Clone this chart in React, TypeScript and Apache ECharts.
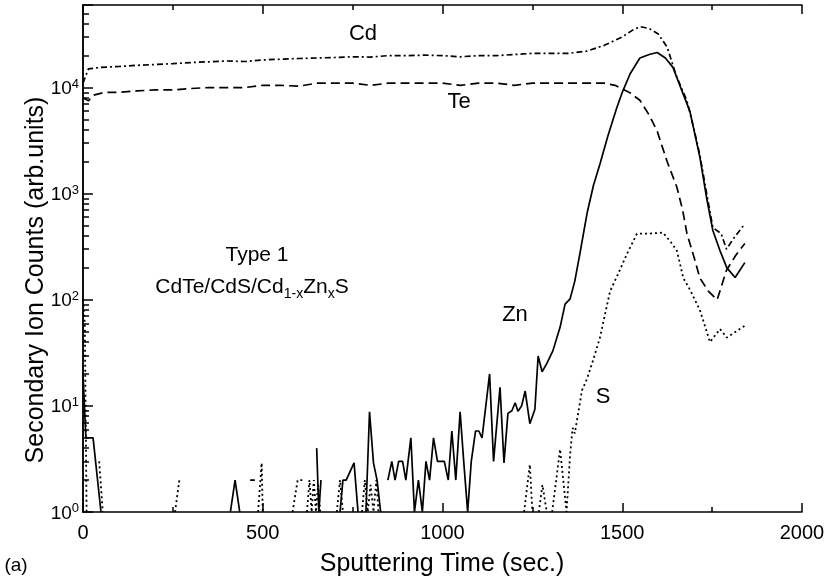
import React, { useEffect, useRef } from "react";
import * as echarts from "echarts";

type P = [number, number] | null;

const xTicks = [0, 500, 1000, 1500, 2000];
const yDecades = [1, 10, 100, 1000, 10000];
const yMinorTicks = [
  2, 3, 4, 5, 6, 7, 8, 9,
  20, 30, 40, 50, 60, 70, 80, 90,
  200, 300, 400, 500, 600, 700, 800, 900,
  2000, 3000, 4000, 5000, 6000, 7000, 8000, 9000,
  20000, 30000, 40000, 50000,
];

const cdData: P[] = [
  [0, 11000], [15, 15000], [50, 15500], [100, 15800], [150, 16200], [200, 16500],
  [250, 16800], [300, 17200], [350, 17500], [400, 17800], [450, 17600], [500, 18200],
  [550, 18500], [600, 18800], [650, 19000], [700, 19200], [750, 19500], [800, 19400],
  [850, 20000], [900, 20000], [950, 20200], [1000, 20000], [1050, 19500], [1100, 20000],
  [1150, 20000], [1200, 20500], [1250, 21000], [1300, 21000], [1350, 21000], [1400, 22000],
  [1450, 25000], [1500, 30000], [1530, 35000], [1550, 37500], [1575, 36000], [1600, 32000],
  [1625, 24000], [1650, 13000], [1680, 7500], [1700, 4000], [1716, 2300], [1740, 800],
  [1752, 480], [1775, 420], [1790, 300], [1810, 380], [1841, 520],
];

const teData: P[] = [
  [0, 8000], [15, 7500], [30, 8500], [60, 9000], [100, 9000], [150, 9300], [200, 9500],
  [250, 9500], [300, 9800], [350, 10000], [400, 10000], [450, 10000], [500, 10500],
  [550, 10500], [600, 10300], [650, 11000], [700, 11000], [750, 11000], [800, 10500],
  [850, 11000], [900, 11000], [950, 11000], [1000, 11000], [1050, 10500], [1100, 11000],
  [1150, 11000], [1200, 10500], [1250, 11000], [1300, 11000], [1350, 11000], [1400, 11000],
  [1450, 11000], [1480, 10500], [1520, 9000], [1549, 7600], [1575, 5500], [1597, 3900],
  [1625, 2000], [1652, 1150], [1668, 700], [1680, 420], [1700, 250], [1716, 160],
  [1740, 120], [1764, 100], [1790, 190], [1815, 260], [1841, 340],
];

const znData: P[] = [
  [0, 20], [8, 5], [28, 5], [50, 1], null,
  [410, 1], [423, 2], [436, 1], null,
  [465, 2], [478, 2], null,
  [650, 4], [656, 1], [662, 2], null,
  [715, 1], [723, 2], [732, 2], [754, 2.9], [765, 1], null,
  [787, 1], [797, 8.8], [808, 2.9], [818, 2], [828, 1], null,
  [848, 2], [859, 3], [868, 2], [878, 3], [889, 3], [898, 2], [912, 5], [922, 1],
  [933, 2], [944, 1], [954, 3], [964, 2], [975, 5], [986, 3], [1005, 3], [1016, 2],
  [1026, 5.8], [1037, 2], [1049, 8.8], [1059, 3], [1070, 1], [1080, 3], [1092, 5.8],
  [1101, 5.8], [1110, 5], [1131, 20], [1142, 3], [1160, 15], [1171, 2.9], [1182, 8.5],
  [1193, 9], [1202, 10.7], [1210, 8.9], [1220, 10], [1230, 13.8], [1243, 6.8],
  [1257, 9.3], [1266, 29.5], [1277, 21], [1290, 25], [1307, 33], [1327, 55], [1341, 91],
  [1355, 102], [1368, 150], [1382, 270], [1402, 650], [1420, 1200], [1438, 1900],
  [1460, 3500], [1485, 6500], [1500, 9000], [1522, 13500], [1549, 19000], [1575, 20500],
  [1597, 21400], [1620, 19000], [1641, 15500], [1665, 9500], [1688, 6000], [1716, 2200],
  [1735, 900], [1752, 450], [1772, 290], [1791, 200], [1814, 162], [1841, 224],
];

const sData: P[] = [
  [0, 100], [5, 60], [10, 1], null,
  [45, 3], [55, 1], null,
  [256, 1], [268, 2], null,
  [487, 1], [497, 2.9], [500, 1], null,
  [583, 1], [597, 2], [612, 2], null,
  [623, 1], [630, 2], [636, 1], [642, 2], [648, 1], [654, 1.8], [660, 1], null,
  [706, 1], [715, 2], [723, 1], null,
  [776, 1], [784, 2], [792, 1], [800, 1.8], [808, 1], [816, 2], [822, 1], null,
  [1227, 1], [1243, 2.8], [1250, 1], null,
  [1268, 1], [1278, 1.8], [1290, 1], null,
  [1305, 1], [1327, 3.9], [1345, 1], [1355, 3.5], [1362, 6.2], [1368, 5.5], [1377, 8.4],
  [1388, 14], [1402, 18], [1419, 27], [1438, 44], [1466, 120], [1490, 180], [1513, 270],
  [1541, 420], [1575, 420], [1613, 430], [1635, 350], [1652, 290], [1670, 160],
  [1688, 125], [1716, 80], [1744, 40], [1772, 53], [1791, 44], [1808, 48], [1841, 57],
];

const toSeriesData = (d: P[]) => d.map((p) => (p ? p : ["-", "-"]));

export default function App() {
  const ref = useRef<HTMLDivElement>(null);
  useEffect(() => {
    if (!ref.current) return;
    const chart = echarts.init(ref.current, undefined, { renderer: "svg" });
    const font = "'Liberation Sans', Arial, sans-serif";
    const lineBase = { type: "line", showSymbol: false, symbol: "none", connectNulls: false, xAxisIndex: 0, yAxisIndex: 0 };
    const blackLine = { color: "#000", width: 1.5 };
    chart.setOption({
      animation: false,
      textStyle: { fontFamily: font, color: "#000" },
      grid: { left: 83, right: 27, top: 5, bottom: 76, containLabel: false },
      xAxis: [
        {
          type: "value", min: xTicks[0], max: xTicks[xTicks.length - 1], interval: 500,
          axisLine: { lineStyle: blackLine },
          axisTick: { inside: true, length: 9, lineStyle: blackLine },
          minorTick: { show: true, splitNumber: 2, length: 5, lineStyle: blackLine },
          axisLabel: { fontSize: 20, color: "#000", margin: 10, fontFamily: font, formatter: (v: number) => String(v) },
          splitLine: { show: false },
        },
        {
          type: "value", position: "top", min: 0, max: 2000, interval: 500,
          axisLine: { lineStyle: blackLine },
          axisTick: { inside: true, length: 9, lineStyle: blackLine },
          minorTick: { show: true, splitNumber: 2, length: 5, lineStyle: blackLine },
          axisLabel: { show: false },
          splitLine: { show: false },
        },
      ],
      yAxis: [
        {
          type: "log", logBase: 10, min: yDecades[0], max: 60000,
          axisLine: { show: true, lineStyle: blackLine },
          axisTick: { inside: true, length: 10, lineStyle: blackLine },
          splitLine: { show: false },
          axisLabel: {
            margin: 4,
            formatter: (v: number) => {
              const e = Math.round(Math.log10(v));
              if (Math.abs(Math.pow(10, e) - v) > 1e-6 * v) return "";
              return `{b|10}{s|${e}}`;
            },
            rich: {
              b: { fontSize: 19, fontFamily: font, color: "#000", lineHeight: 22 },
              s: { fontSize: 13, fontFamily: font, color: "#000", verticalAlign: "top", lineHeight: 22 },
            },
          },
        },
        {
          type: "log", logBase: 10, min: 1, max: 60000, position: "right",
          axisLine: { show: true, lineStyle: blackLine },
          axisTick: { show: false }, axisLabel: { show: false }, splitLine: { show: false },
        },
        {
          type: "log", logBase: 10, min: 1, max: 60000, position: "left", offset: 0,
          axisLine: { show: false },
          axisTick: { show: true, inside: true, length: 6, customValues: yMinorTicks, lineStyle: blackLine },
          axisLabel: { show: false }, splitLine: { show: false },
        },
      ],
      series: [
        { ...lineBase, name: "Cd", data: toSeriesData(cdData), lineStyle: { color: "#000", width: 1.7, type: [6, 3, 2, 3] } },
        { ...lineBase, name: "Te", data: toSeriesData(teData), lineStyle: { color: "#000", width: 1.7, type: [9, 5] } },
        { ...lineBase, name: "Zn", data: toSeriesData(znData), lineStyle: { color: "#000", width: 1.7, type: "solid" } },
        { ...lineBase, name: "S", data: toSeriesData(sData), lineStyle: { color: "#000", width: 1.8, type: [2, 3] } },
      ],
      graphic: [
        { type: "text", x: 442, y: 562, style: { text: "Sputtering Time (sec.)", font: `25px ${font}`, fill: "#000", textAlign: "center", textVerticalAlign: "middle" } },
        { type: "text", x: 34, y: 280, rotation: Math.PI / 2, style: { text: "Secondary Ion Counts (arb.units)", font: `25px ${font}`, fill: "#000", textAlign: "center", textVerticalAlign: "middle" } },
        { type: "text", x: 16, y: 564, style: { text: "(a)", font: `19px ${font}`, fill: "#000", textAlign: "center", textVerticalAlign: "middle" } },
        { type: "text", x: 363, y: 32, style: { text: "Cd", font: `22px ${font}`, fill: "#000", textAlign: "center", textVerticalAlign: "middle" } },
        { type: "text", x: 459, y: 100, style: { text: "Te", font: `22px ${font}`, fill: "#000", textAlign: "center", textVerticalAlign: "middle" } },
        { type: "text", x: 515, y: 313, style: { text: "Zn", font: `22px ${font}`, fill: "#000", textAlign: "center", textVerticalAlign: "middle" } },
        { type: "text", x: 603, y: 395, style: { text: "S", font: `22px ${font}`, fill: "#000", textAlign: "center", textVerticalAlign: "middle" } },
        { type: "text", x: 257, y: 253, style: { text: "Type 1", font: `21px ${font}`, fill: "#000", textAlign: "center", textVerticalAlign: "middle" } },
        {
          type: "text", x: 252, y: 285,
          style: {
            text: "{n|CdTe/CdS/Cd}{sub|1-x}{n|Zn}{sub|x}{n|S}",
            textAlign: "center", textVerticalAlign: "middle",
            rich: {
              n: { fontSize: 21, fontFamily: font, fill: "#000", color: "#000", lineHeight: 30 },
              sub: { fontSize: 14, fontFamily: font, fill: "#000", color: "#000", verticalAlign: "bottom", lineHeight: 30 },
            },
          },
        },
      ],
    });
    return () => chart.dispose();
  }, []);
  return <div ref={ref} style={{ position: "fixed", left: 0, top: 0, width: 829, height: 588 }} />;
}
